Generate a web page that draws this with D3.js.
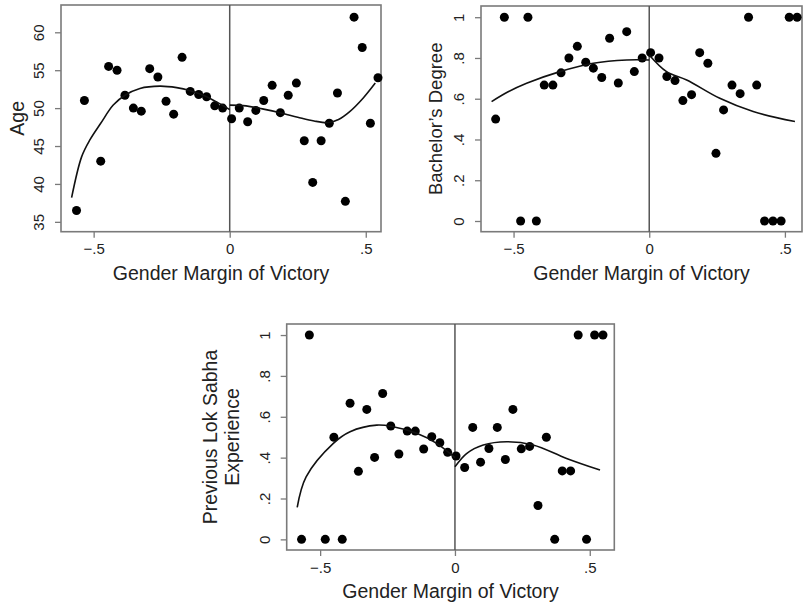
<!DOCTYPE html>
<html>
<head>
<meta charset="utf-8">
<script src="https://cdn.jsdelivr.net/npm/d3@7"></script>
<style>
  body { margin: 0; background: #fff; }
  svg { display: block; font-family: "Liberation Sans", Arial, Helvetica, sans-serif; }
</style>
</head>
<body>
<div id="chart"></div>
<script>
// Binned means.
const ageX = [-0.563, -0.534, -0.474, -0.445, -0.414, -0.385, -0.354, -0.325, -0.294, -0.264, -0.234, -0.206, -0.175, -0.145, -0.114, -0.085, -0.055, -0.026,
  0.007, 0.035, 0.066, 0.096, 0.125, 0.156, 0.186, 0.215, 0.245, 0.274, 0.305, 0.336, 0.366, 0.396, 0.425, 0.457, 0.487, 0.517, 0.545];
const ageY = [36.5, 51.0, 43.0, 55.5, 55.0, 51.7, 50.0, 49.6, 55.2, 54.1, 50.9, 49.2, 56.7, 52.2, 51.8, 51.5, 50.3, 50.0,
  48.6, 50.0, 48.2, 49.7, 51.0, 53.0, 49.4, 51.7, 53.3, 45.7, 40.2, 45.7, 48.0, 52.0, 37.7, 62.0, 58.0, 48.0, 54.0];
const ageFitLeft = [[-0.581, 38.2], [-0.544, 43.6], [-0.514, 45.8], [-0.474, 48.0], [-0.428, 50.4], [-0.385, 51.7], [-0.33, 52.6],
  [-0.256, 52.9], [-0.195, 52.7], [-0.145, 52.3], [-0.097, 51.7], [-0.048, 50.8], [0, 49.8]];
const ageFitRight = [[0, 50.4], [0.06, 50.3], [0.12, 49.9], [0.185, 49.4], [0.25, 48.8], [0.31, 48.3], [0.363, 48.1],
  [0.40, 48.5], [0.44, 49.5], [0.49, 51.3], [0.535, 53.3]];

const baX = [-0.566, -0.534, -0.474, -0.447, -0.416, -0.387, -0.355, -0.325, -0.296, -0.265, -0.234, -0.206, -0.175, -0.146, -0.114, -0.083, -0.055, -0.026,
  0.005, 0.036, 0.065, 0.095, 0.124, 0.156, 0.186, 0.216, 0.246, 0.274, 0.305, 0.335, 0.366, 0.396, 0.425, 0.456, 0.486, 0.516, 0.545];
const baY = [0.5, 1, 0, 1, 0, 0.667, 0.667, 0.727, 0.8, 0.857, 0.779, 0.75, 0.704, 0.897, 0.677, 0.929, 0.733, 0.8,
  0.826, 0.8, 0.709, 0.689, 0.591, 0.62, 0.826, 0.774, 0.332, 0.545, 0.667, 0.625, 1, 0.667, 0, 0, 0, 1, 1];
const baFitLeft = [[-0.581, 0.586], [-0.52, 0.634], [-0.452, 0.676], [-0.329, 0.733], [-0.206, 0.774], [-0.083, 0.79], [0, 0.79]];
const baFitRight = [[0, 0.815], [0.064, 0.733], [0.138, 0.692], [0.26, 0.602], [0.383, 0.537], [0.537, 0.488]];

const lsX = [-0.569, -0.540, -0.481, -0.449, -0.418, -0.389, -0.358, -0.327, -0.298, -0.268, -0.238, -0.208, -0.177, -0.147, -0.116, -0.086, -0.056, -0.027,
  0.004, 0.036, 0.066, 0.095, 0.126, 0.157, 0.187, 0.215, 0.246, 0.277, 0.308, 0.339, 0.370, 0.398, 0.429, 0.457, 0.488, 0.518, 0.549];
const lsY = [0, 1, 0, 0.5, 0, 0.666, 0.333, 0.636, 0.401, 0.714, 0.555, 0.418, 0.53, 0.53, 0.442, 0.502, 0.473, 0.426,
  0.408, 0.352, 0.548, 0.378, 0.445, 0.548, 0.391, 0.636, 0.443, 0.455, 0.166, 0.5, 0, 0.335, 0.335, 1, 0, 1, 1];
const lsFitLeft = [[-0.585, 0.157], [-0.552, 0.306], [-0.451, 0.47], [-0.389, 0.527], [-0.29, 0.559], [-0.229, 0.551],
  [-0.142, 0.519], [-0.068, 0.47], [0, 0.40]];
const lsFitRight = [[0, 0.355], [0.043, 0.42], [0.105, 0.462], [0.192, 0.478], [0.29, 0.462], [0.414, 0.396], [0.538, 0.339]];

const xTicks = [-0.5, 0, 0.5];
const ageTicks = [35, 40, 45, 50, 55, 60];
const shareTicks = [0, 0.2, 0.4, 0.6, 0.8, 1];
const xTitle = "Gender Margin of Victory";

const svg = d3.select("#chart").append("svg")
  .attr("width", 804)
  .attr("height", 605);

// Stata-style labels: ".5", "−.5", "0", "1"
const fmtShort = v => {
  if (v === 0) return "0";
  const s = String(Math.abs(v)).replace(/^0/, "");
  return (v < 0 ? "\u2212" : "") + s;
};

function drawPanel(p) {
  const x = d3.scaleLinear().domain(p.xDomain).range([p.left, p.right]);
  const y = d3.scaleLinear().domain(p.yDomain).range([p.bottom, p.top]);
  const g = svg.append("g");

  // x axis
  const xa = g.append("g")
    .attr("transform", `translate(0,${p.bottom})`)
    .call(d3.axisBottom(x).tickValues(xTicks).tickFormat(fmtShort).tickSize(6).tickPadding(6));
  // y axis, labels turned like Stata does
  const ya = g.append("g")
    .attr("transform", `translate(${p.left},0)`)
    .call(d3.axisLeft(y).tickValues(p.yTicks).tickFormat(fmtShort).tickSize(6));
  ya.selectAll("text")
    .attr("x", null).attr("dy", null)
    .attr("y", -17)
    .attr("transform", "rotate(-90)")
    .attr("text-anchor", "middle");

  [xa, ya].forEach(a => {
    a.select(".domain").remove();
    a.selectAll("line").attr("stroke", "#7a7a7a").attr("stroke-width", 1.3);
    a.selectAll("text").attr("font-size", 15).attr("fill", "#222")
      .attr("font-family", "'Liberation Sans', Arial, sans-serif");
  });

  // frame
  g.append("rect")
    .attr("x", p.left).attr("y", p.top)
    .attr("width", p.right - p.left).attr("height", p.bottom - p.top)
    .attr("fill", "none").attr("stroke", "#7a7a7a").attr("stroke-width", 1.6);

  // cutoff line at zero
  g.append("line")
    .attr("x1", x(0)).attr("x2", x(0))
    .attr("y1", p.top).attr("y2", p.bottom)
    .attr("stroke", "#555").attr("stroke-width", 1.5);

  // points
  g.selectAll("circle.pt")
    .data(p.xs.map((v, i) => [v, p.ys[i]]))
    .join("circle")
    .attr("class", "pt")
    .attr("cx", d => x(d[0]))
    .attr("cy", d => y(d[1]))
    .attr("r", 4.5)
    .attr("fill", "#000");

  // fitted lines on each side
  const line = d3.line().x(d => x(d[0])).y(d => y(d[1])).curve(d3.curveCatmullRom);
  [p.fitLeft, p.fitRight].forEach(f => {
    g.append("path")
      .attr("d", line(f))
      .attr("fill", "none")
      .attr("stroke", "#111")
      .attr("stroke-width", 1.6);
  });

  // x title
  g.append("text")
    .attr("x", (p.left + p.right) / 2)
    .attr("y", p.bottom + 48)
    .attr("text-anchor", "middle")
    .attr("font-size", 19.5)
    .attr("fill", "#222")
    .text(xTitle);

  // y title (one or two lines)
  p.yTitle.forEach((t, i) => {
    const tx = p.left - p.yTitleOffsets[i];
    const ty = (p.top + p.bottom) / 2;
    g.append("text")
      .attr("transform", `translate(${tx},${ty}) rotate(-90)`)
      .attr("text-anchor", "middle")
      .attr("dominant-baseline", "central")
      .attr("font-size", p.yTitleSize)
      .attr("fill", "#222")
      .text(t);
  });
}

drawPanel({
  left: 61, right: 381, top: 5, bottom: 231.7,
  xDomain: [-0.62, 0.556], yDomain: [33.7, 63.6],
  yTicks: ageTicks, xs: ageX, ys: ageY,
  fitLeft: ageFitLeft, fitRight: ageFitRight,
  yTitle: ["Age"], yTitleOffsets: [44], yTitleSize: 19.5
});

drawPanel({
  left: 481, right: 802, top: 6, bottom: 231.7,
  xDomain: [-0.62, 0.563], yDomain: [-0.0525, 1.055],
  yTicks: shareTicks, xs: baX, ys: baY,
  fitLeft: baFitLeft, fitRight: baFitRight,
  yTitle: ["Bachelor\u2019s Degree"], yTitleOffsets: [46], yTitleSize: 18.5
});

drawPanel({
  left: 286.7, right: 614.3, top: 324, bottom: 550,
  xDomain: [-0.624, 0.591], yDomain: [-0.052, 1.054],
  yTicks: shareTicks, xs: lsX, ys: lsY,
  fitLeft: lsFitLeft, fitRight: lsFitRight,
  yTitle: ["Previous Lok Sabha", "Experience"], yTitleOffsets: [77, 55], yTitleSize: 19.5
});
</script>
</body>
</html>
